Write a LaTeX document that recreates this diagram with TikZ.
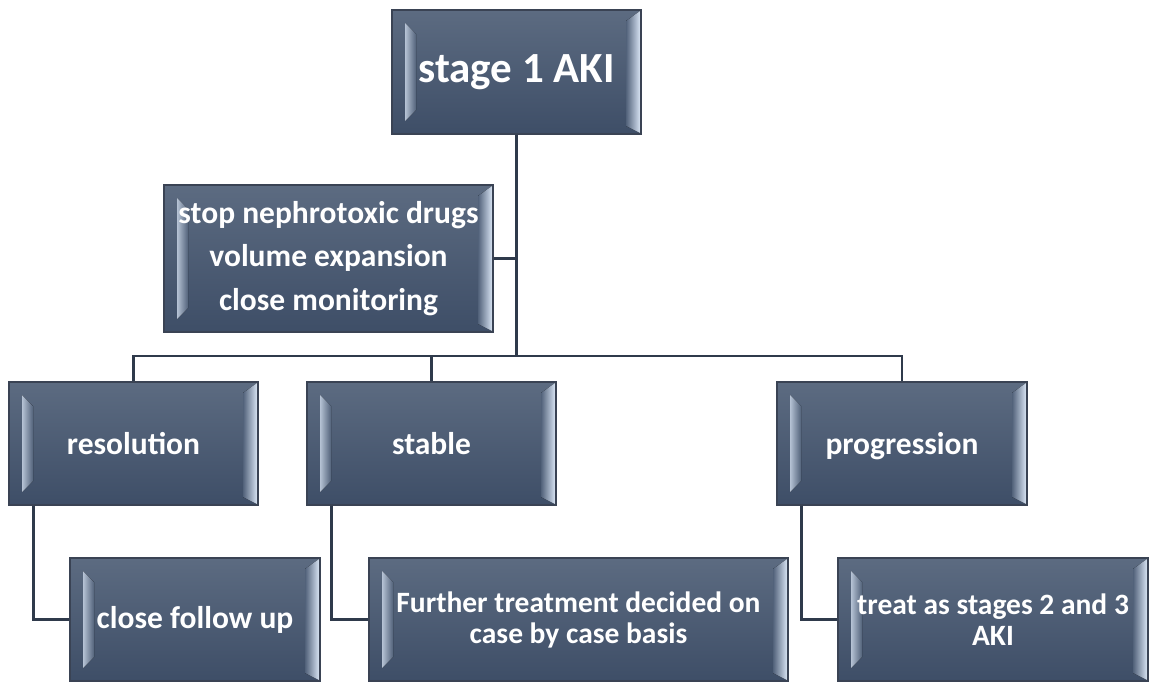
\documentclass[tikz,border=0pt]{standalone}
\usepackage{fontspec}
\setmainfont{Carlito}
\usetikzlibrary{positioning}
\definecolor{boxtop}{HTML}{5C6B81}
\definecolor{boxbot}{HTML}{3E4E67}
\definecolor{boxline}{HTML}{3A4354}
\definecolor{bevlight}{HTML}{D6E2F2}
\definecolor{bevdark}{HTML}{52627A}
\definecolor{linkcol}{HTML}{2F3A4B}

\begin{document}
\begin{tikzpicture}[
      x=1pt,y=-1pt,
      stepbox/.style={draw=boxline,line width=1.2pt,top color=boxtop,bottom color=boxbot,
        text=white,align=center,inner sep=0pt,minimum width=249pt,minimum height=123pt,
        font=\fontsize{31.5}{32}\selectfont\bfseries,
        path picture={
          \path (path picture bounding box.north west) coordinate (bnw)
                (path picture bounding box.south west) coordinate (bsw)
                (path picture bounding box.north east) coordinate (bne)
                (path picture bounding box.south east) coordinate (bse);
          \fill[left color=bevlight!75!bevdark,right color=bevdark]
            ([xshift=13pt,yshift=-13pt]bnw) -- ([xshift=24pt,yshift=-24pt]bnw)
            -- ([xshift=24pt,yshift=24pt]bsw) -- ([xshift=13pt,yshift=13pt]bsw) -- cycle;
          \fill[left color=bevdark,right color=bevlight]
            ([xshift=-1pt,yshift=-1pt]bne) -- ([xshift=-15pt,yshift=-11pt]bne)
            -- ([xshift=-15pt,yshift=8pt]bse) -- ([xshift=-1pt,yshift=1pt]bse) -- cycle;
        }},
      twoline/.style={font=\fontsize{29.5}{31}\selectfont\bfseries},
      link/.style={linkcol,line width=2.4pt}
    ]
      \useasboundingbox (0,0) rectangle (1149,682);

      \node[stepbox,minimum height=124pt,font=\fontsize{43}{46}\selectfont\bfseries] (aki) at (516.5,72) {stage 1 AKI};
      \node[stepbox,minimum width=329pt,minimum height=147pt] (care) at (328.5,258.5) {stop nephrotoxic drugs\\[11.5pt]volume expansion\\[11.5pt]close monitoring};

      \node[stepbox] (resol) at (133.5,443.5) {resolution};
      \node[stepbox] (stable) at (431.5,443.5) {stable};
      \node[stepbox,minimum width=250pt,text depth=0pt] (progr) at (902,443.5) {progression};

      \node[stepbox,minimum width=250pt] (follow) at (195,619.5) {close follow up};
      \node[stepbox,twoline,minimum width=419pt] (further) at (578.5,619.5) {Further treatment decided on\\case by case basis};
      \node[stepbox,twoline,minimum width=310pt] (treat) at (993,619.5) {treat as stages 2 and 3\\AKI};

      \coordinate (bus) at (517,356);

      \draw[link] (aki) -- (aki |- bus);
      \draw[link] (care) -- (care -| aki);
      \draw[link] (resol) -- (resol |- bus) -- (progr |- bus) -- (progr);
      \draw[link] (stable) -- (stable |- bus);

      \draw[link] ([xshift=25pt]resol.south west) |- (follow);
      \draw[link] ([xshift=25pt]stable.south west) |- (further);
      \draw[link] ([xshift=25pt]progr.south west) |- (treat);
    \end{tikzpicture}
\end{document}
